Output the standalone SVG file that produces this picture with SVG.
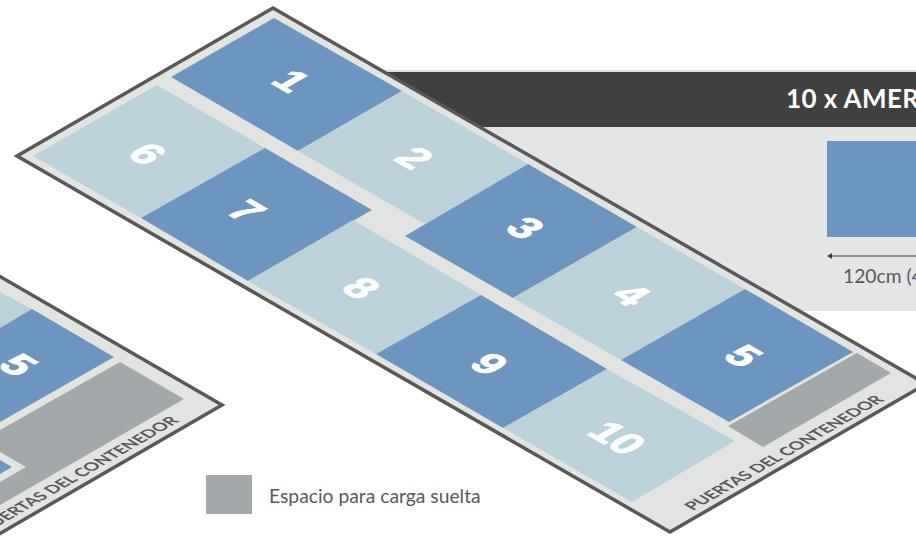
<svg xmlns="http://www.w3.org/2000/svg" width="916" height="549" viewBox="0 0 916 549">
<style>
.floor{fill:#e2e4e2;stroke:#58585a;stroke-width:3.5;stroke-linejoin:miter}
.b{fill:#6c96bf}.l{fill:#bbd2da}.g{fill:#a3a9ab}
.n{font-family:"Liberation Sans",Arial,sans-serif;font-weight:700;font-size:41px;fill:#fff;stroke:#fff;stroke-width:1.2;text-anchor:middle}
.d{font-family:Lato,"Noto Sans",sans-serif;font-weight:700;font-size:16.3px;fill:#58585a}
.t{font-family:Lato,"Noto Sans",sans-serif;fill:#58595b;font-size:19.3px}
</style>
<g id="panel">
<rect x="380" y="70" width="536" height="2.500" fill="#dfdfdf"/>
<rect x="380" y="72" width="536" height="55" fill="#404040"/>
<rect x="380" y="127" width="536" height="184" fill="#e4e5e7"/>
<rect x="827" y="141" width="89" height="96" class="b"/>
<text x="786" y="108" font-family="Lato,'Noto Sans',sans-serif" font-weight="700" font-size="26" letter-spacing=".4" fill="#fff">10 x AMER</text>
<text x="843" y="283" class="t">120cm (4</text>
</g>
<g id="connectors"><line x1="916" y1="256" x2="829" y2="256" stroke="#404040" stroke-width="1.200"/><path d="M827 256L832 253V259Z" fill="#404040"/></g>
<g id="left-plan">
<path class="floor" d="M-20 265L222 405L-20 545Z"/>
<path class="l" d="M0 292L32 309L0 328Z"/>
<path class="b" d="M32 309L114 357L0 422V328Z"/>
<path class="g" d="M120 362L184 399L0 505V430Z"/>
<path d="M0 452L26 467L0 482Z" fill="#e2e4e2"/>
<path class="b" d="M0 460L12 467L0 474Z"/>
<text class="n" transform="matrix(.866 .5 -.866 .5 6 372)">5</text>
<text class="d" transform="matrix(.866 -.5 .866 .5 -12 532)">PUERTAS DEL CONTENEDOR</text>
</g>
<g id="main-plan"><path class="floor" d="M273 8L926 384L670 532L17 156Z"/></g>
<g id="pallet-1"><path class="b" d="M274 18L402 91L298 151L171 77Z"/><text class="n" transform="matrix(.866 .5 -.866 .5 279 88)">1</text></g>
<g id="pallet-2"><path class="l" d="M402 91L528 164L425 224L298 151Z"/><text class="n" transform="matrix(.866 .5 -.866 .5 402 165)">2</text></g>
<g id="pallet-3"><path class="b" d="M528 164L637 227L513 298L405 236Z"/><text class="n" transform="matrix(.866 .5 -.866 .5 513 235)">3</text></g>
<g id="pallet-4"><path class="l" d="M637 227L745 289L621 360L513 298Z"/><text class="n" transform="matrix(.866 .5 -.866 .5 619 302)">4</text></g>
<g id="pallet-5"><path class="b" d="M745 289L853 352L729 422L621 360Z"/><text class="n" transform="matrix(.866 .5 -.866 .5 731 363)">5</text></g>
<g id="pallet-6"><path class="l" d="M157 85L265 148L141 218L33 156Z"/><text class="n" transform="matrix(.866 .5 -.866 .5 135 161)">6</text></g>
<g id="pallet-7"><path class="b" d="M265 148L372 210L248 281L141 218Z"/><text class="n" transform="matrix(.866 .5 -.866 .5 234 218)">7</text></g>
<g id="pallet-8"><path class="l" d="M353 220L481 295L376 354L248 281Z"/><text class="n" transform="matrix(.866 .5 -.866 .5 349 295)">8</text></g>
<g id="pallet-9"><path class="b" d="M481 295L607 369L503 428L376 354Z"/><text class="n" transform="matrix(.866 .5 -.866 .5 477 371)">9</text></g>
<g id="pallet-10"><path class="l" d="M607 369L735 441L632 502L503 428Z"/><text class="n" transform="matrix(.866 .5 -.866 .5 605 445)">10</text></g>
<g id="spare-space"><path class="g" d="M857 353L891 373L763 447L728 426Z"/></g>
<text class="d" transform="matrix(.866 -.5 .866 .5 693 511)">PUERTAS DEL CONTENEDOR</text>
<g id="legend"><rect x="206" y="475" width="46" height="39" class="g"/><text x="269" y="503" class="t">Espacio para carga suelta</text></g>
</svg>
